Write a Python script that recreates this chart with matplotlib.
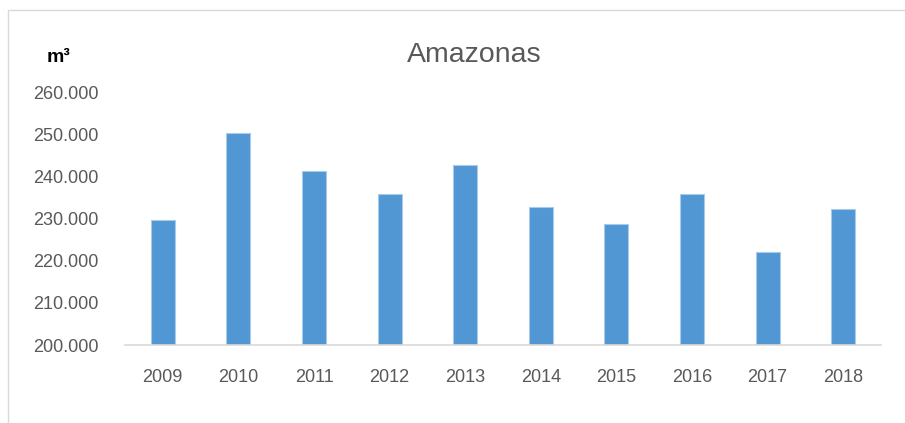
import matplotlib.pyplot as plt
from matplotlib.patches import Rectangle
from matplotlib.ticker import FuncFormatter

years = ['2009', '2010', '2011', '2012', '2013', '2014', '2015', '2016', '2017', '2018']
volumes = [229700, 250200, 241200, 235900, 242600, 232800, 228700, 235900, 222000, 232300]
yticks = [200000, 210000, 220000, 230000, 240000, 250000, 260000]

plt.rcParams['font.family'] = ['Liberation Sans', 'DejaVu Sans']

fig = plt.figure(figsize=(9.05, 4.23), dpi=100)

# chart area frame (only top and left edges visible in the crop)
fig.patches.append(Rectangle((8 / 905, -0.1), 1.2, 1 - 10 / 423 + 0.1,
                             transform=fig.transFigure, fill=False,
                             edgecolor='#d9d9d9', linewidth=1.0))

ax = fig.add_axes([125 / 905, 1 - 345 / 423, 756 / 905, (345 - 92) / 423])
x = range(len(years))
ax.bar(x, volumes, width=0.32, color='#5097d3', edgecolor='#a9cbea', linewidth=0.8, zorder=2)

ax.set_ylim(200000, 260000)
ax.set_xlim(-0.5, len(years) - 0.5)
ax.set_yticks(yticks)
ax.yaxis.set_major_formatter(FuncFormatter(lambda v, p: f'{int(v):,}'.replace(',', '.')))
ax.set_xticks(list(x))
ax.set_xticklabels(years)

for s in ['top', 'right', 'left']:
    ax.spines[s].set_visible(False)
ax.spines['bottom'].set_color('#d9d9d9')
ax.spines['bottom'].set_linewidth(1.2)
ax.tick_params(axis='both', length=0, labelsize=13, colors='#595959')
ax.tick_params(axis='y', pad=19)
ax.tick_params(axis='x', pad=17)

fig.text(474 / 905, 1 - 55 / 423, 'Amazonas', ha='center', va='center',
         fontsize=20.5, color='#595959')
fig.text(58 / 905, 1 - 58 / 423, 'm³', ha='center', va='center',
         fontsize=14, fontweight='bold', color='#000000')

fig.savefig('out.png', dpi=100)
